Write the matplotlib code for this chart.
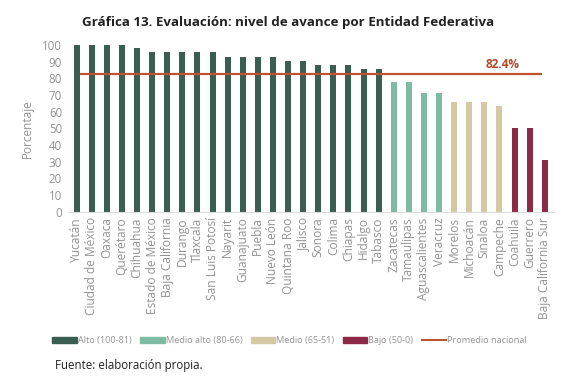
import numpy as np
import matplotlib
matplotlib.use("Agg")
import matplotlib.pyplot as plt
from matplotlib.patches import Patch
from matplotlib.lines import Line2D

plt.rcParams['font.family'] = ['Open Sans', 'DejaVu Sans']

# datos
estados = ['Yucatán', 'Ciudad de México', 'Oaxaca', 'Querétaro', 'Chihuahua',
           'Estado de México', 'Baja California', 'Durango', 'Tlaxcala',
           'San Luis Potosí', 'Nayarit', 'Guanajuato', 'Puebla', 'Nuevo León',
           'Quintana Roo', 'Jalisco', 'Sonora', 'Colima', 'Chiapas', 'Hidalgo',
           'Tabasco', 'Zacatecas', 'Tamaulipas', 'Aguascalientes', 'Veracruz',
           'Morelos', 'Michoacán', 'Sinaloa', 'Campeche', 'Coahuila', 'Guerrero',
           'Baja California Sur']
avance = [100, 100, 100, 100, 98, 95.5, 95.5, 95.5, 95.5, 95.5, 93, 93, 93, 93,
          90.5, 90.5, 88, 88, 88, 85.5, 85.5, 78, 78, 71, 71, 66, 66, 66, 63.5,
          50.5, 50.5, 31]
# nivel de cada entidad (0 alto, 1 medio alto, 2 medio, 3 bajo)
nivel = [0] * 21 + [1] * 4 + [2] * 4 + [3] * 3
promedio = 82.4

niveles = ['Alto (100-81)', 'Medio alto (80-66)', 'Medio (65-51)', 'Bajo (50-0)']
colores = ['#3a5e51', '#7dbca2', '#d5c8a4', '#8b2946']
linea_color = '#c0532e'

fig = plt.figure(figsize=(5.7, 3.8), dpi=100)
ax = fig.add_axes([0.1186, 0.4429, 0.853, 0.4387])

x = np.arange(len(estados))
ax.bar(x, avance, width=0.4, color=[colores[n] for n in nivel],
       clip_on=False, zorder=2)
ax.hlines(promedio, 0.2, 30.8, color=linea_color, lw=1.6, zorder=3)
ax.text(28.2, promedio + 2.2, f'{promedio}%', color='#b5472b', fontsize=8.5,
        fontweight='bold', ha='center', va='bottom')

ax.set_xlim(-0.6, 31.6)
ax.set_ylim(0, 100)
ax.set_yticks(range(0, 101, 10))
ax.set_xticks(x)
ax.set_xticklabels(estados, rotation=90, fontsize=8.6, color='#939393')
ax.tick_params(axis='y', labelsize=8.3, colors='#939393', length=0, pad=4)
ax.tick_params(axis='x', length=0, pad=4)
for s in ['top', 'right', 'left']:
    ax.spines[s].set_visible(False)
ax.spines['bottom'].set_color('#dddddd')
ax.set_ylabel('Porcentaje', fontsize=8.5, color='#939393', labelpad=6)

fig.text(0.505, 0.942, 'Gráfica 13. Evaluación: nivel de avance por Entidad Federativa',
         ha='center', va='center', fontsize=9.6, fontweight='bold', color='#222222')

handles = [Patch(facecolor=c, edgecolor=c) for c in colores]
handles.append(Line2D([0], [0], color=linea_color, lw=1.5))
fig.legend(handles, niveles + ['Promedio nacional'], loc='center',
           bbox_to_anchor=(0.508, 0.103), ncol=5, frameon=False, fontsize=6.6,
           handlelength=2.7, handleheight=0.7, handletextpad=0.1,
           columnspacing=0.9, labelcolor='#939393')

fig.text(0.096, 0.039, 'Fuente: elaboración propia.', fontsize=8.3,
         color='#222222', va='center')

fig.savefig('out.png', dpi=100)
